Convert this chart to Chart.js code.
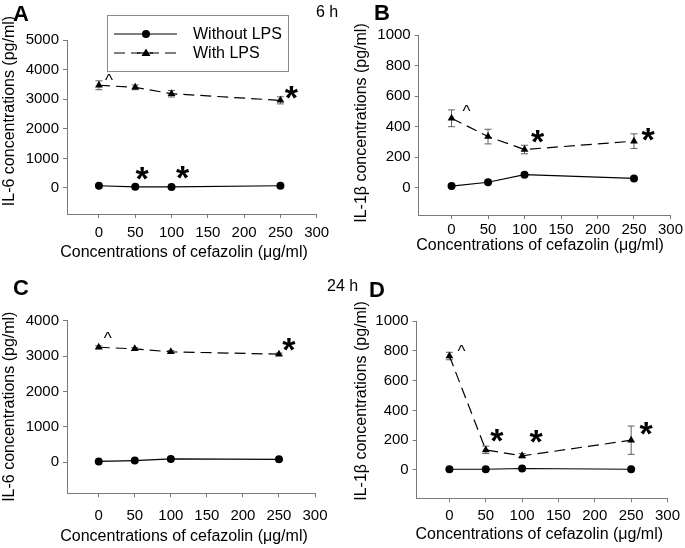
<!DOCTYPE html>
<html><head><meta charset="utf-8">
<script src="https://cdn.jsdelivr.net/npm/chart.js@4.4.1/dist/chart.umd.min.js"></script>
<style>
html,body{margin:0;padding:0;background:#fff;}
#wrap{position:relative;width:685px;height:548px;overflow:hidden;background:#fff;font-family:"Liberation Sans",Arial,sans-serif;}
canvas{position:absolute;}
.lbl{position:absolute;font-weight:bold;font-size:22px;line-height:1;color:#000;}
.tm{position:absolute;font-size:16px;line-height:1;color:#000;}
</style></head><body>
<div id="wrap">
<canvas id="cA" width="342" height="274" style="left:0;top:0"></canvas>
<canvas id="cB" width="343" height="274" style="left:342px;top:0"></canvas>
<canvas id="cC" width="342" height="274" style="left:0;top:274px"></canvas>
<canvas id="cD" width="343" height="274" style="left:342px;top:274px"></canvas>
<div class="lbl" style="left:13px;top:3px">A</div>
<div class="lbl" style="left:374px;top:2px">B</div>
<div class="lbl" style="left:13px;top:277px">C</div>
<div class="lbl" style="left:369px;top:279px">D</div>
<div class="tm" style="left:316px;top:4px">6 h</div>
<div class="tm" style="left:327px;top:278px">24 h</div>
</div>
<script>
// ---- data ----
const doses = [0, 50, 100, 250];
const xTicks = [0, 50, 100, 150, 200, 250, 300];
const il6Ticks = [0, 1000, 2000, 3000, 4000, 5000];
const il6Ticks24 = [0, 1000, 2000, 3000, 4000];
const il1bTicks = [0, 200, 400, 600, 800, 1000];

// 6 h IL-6 (panel A)
const il6_6h_without = [75, 40, 35, 75];
const il6_6h_with = [3470, 3400, 3185, 2960];
const il6_6h_with_err = [150, 80, 110, 120];
// 6 h IL-1beta (panel B)
const il1b_6h_without = [10, 35, 85, 60];
const il1b_6h_with = [455, 335, 250, 305];
const il1b_6h_with_err = [55, 48, 28, 48];
// 24 h IL-6 (panel C)
const il6_24h_without = [25, 50, 95, 85];
const il6_24h_with = [3250, 3205, 3120, 3055];
const il6_24h_with_err = [40, 35, 35, 30];
// 24 h IL-1beta (panel D)
const il1b_24h_without = [5, 5, 10, 5];
const il1b_24h_with = [765, 135, 95, 200];
const il1b_24h_with_err = [25, 25, 15, 95];

const seriesNames = ['Without LPS', 'With LPS'];
const xTitle = 'Concentrations of cefazolin (\u03bcg/ml)';
const il6Title = 'IL-6 concentrations (pg/ml)';
const il1bTitle = 'IL-1\u03b2 concentrations (pg/ml)';

const FONT = '"Liberation Sans", Arial, sans-serif';
const AXIS = '#7a7a7a';

const pts = arr => doses.map((d, i) => ({x: d, y: arr[i]}));

const errorBars = {
  id: 'errorBars',
  beforeDatasetsDraw(chart) {
    const ctx = chart.ctx, ys = chart.scales.y;
    chart.data.datasets.forEach((ds, di) => {
      if (!ds.errors) return;
      const meta = chart.getDatasetMeta(di);
      ctx.save();
      ctx.strokeStyle = '#606060';
      ctx.lineWidth = 1;
      meta.data.forEach((p, i) => {
        const v = ds.data[i].y, e = ds.errors[i];
        const t = ys.getPixelForValue(v + e), b = ys.getPixelForValue(v - e);
        ctx.beginPath();
        ctx.moveTo(p.x, t); ctx.lineTo(p.x, b);
        ctx.moveTo(p.x - 3.5, t); ctx.lineTo(p.x + 3.5, t);
        ctx.moveTo(p.x - 3.5, b); ctx.lineTo(p.x + 3.5, b);
        ctx.stroke();
      });
      ctx.restore();
    });
  }
};

function drawCentered(ctx, text, cx, cy) {
  const m = ctx.measureText(text);
  const asc = m.actualBoundingBoxAscent, desc = m.actualBoundingBoxDescent;
  ctx.textAlign = 'center';
  ctx.textBaseline = 'alphabetic';
  ctx.fillText(text, cx, cy + (asc - desc) / 2);
}

const notesPlugin = {
  id: 'notes',
  afterDatasetsDraw(chart, args, opts) {
    const ctx = chart.ctx;
    (opts.items || []).forEach(n => {
      const p = chart.getDatasetMeta(n.ds).data[n.i];
      ctx.save();
      ctx.fillStyle = '#000';
      ctx.font = n.t === '*' ? 'bold 34px ' + FONT : '17px ' + FONT;
      drawCentered(ctx, n.t, p.x + n.dx, p.y + n.dy);
      ctx.restore();
    });
  }
};

const titlesPlugin = {
  id: 'axisTitles',
  afterDraw(chart, args, o) {
    const ctx = chart.ctx;
    ctx.save();
    ctx.fillStyle = '#000';
    ctx.font = '16px ' + FONT;
    ctx.textAlign = 'center';
    ctx.textBaseline = 'middle';
    ctx.fillText(o.xText, o.xPos[0], o.xPos[1]);
    ctx.translate(o.yPos[0], o.yPos[1]);
    ctx.rotate(-Math.PI / 2);
    ctx.fillText(o.yText, 0, 0);
    ctx.restore();
  }
};

const boxLegend = {
  id: 'boxLegend',
  afterDraw(chart, args, o) {
    if (!o.show) return;
    const ctx = chart.ctx;
    ctx.save();
    ctx.strokeStyle = '#8a8a8a';
    ctx.lineWidth = 1;
    ctx.strokeRect(o.x + 0.5, o.y + 0.5, o.w, o.h);
    const rows = [o.y + 19, o.y + 38];
    chart.data.datasets.forEach((ds, di) => {
      const y = rows[di];
      ctx.strokeStyle = '#000';
      ctx.lineWidth = 1.2;
      ctx.setLineDash(ds.borderDash || []);
      ctx.beginPath();
      ctx.moveTo(o.x + 7, y); ctx.lineTo(o.x + 70, y);
      ctx.stroke();
      ctx.setLineDash([]);
      ctx.fillStyle = '#fff';
      if (ds.borderDash) { ctx.fillRect(o.x + 33, y - 3, 10, 6); ctx.strokeStyle='#000'; ctx.beginPath(); ctx.moveTo(o.x+30,y);ctx.lineTo(o.x+46,y);ctx.stroke(); }
      ctx.fillStyle = '#000';
      ctx.beginPath();
      if (ds.pointStyle === 'circle') {
        ctx.arc(o.x + 39, y, 4, 0, Math.PI * 2);
      } else {
        ctx.moveTo(o.x + 39, y - 4.5); ctx.lineTo(o.x + 43.5, y + 3); ctx.lineTo(o.x + 34.5, y + 3); ctx.closePath();
      }
      ctx.fill();
      ctx.font = '16px ' + FONT;
      ctx.textAlign = 'left';
      ctx.textBaseline = 'middle';
      ctx.fillText(ds.label, o.x + 86, y + 1);
    });
    ctx.restore();
  }
};

function makePanel(id, c) {
  const cv = document.getElementById(id);
  const W = cv.width, H = cv.height;
  const tickOpts = pad => ({font: {size: 15, family: FONT}, color: '#000', padding: pad, autoSkip: false, maxRotation: 0,
                            callback: v => String(v)});
  const grid = {display: true, drawOnChartArea: false, drawTicks: true, tickLength: 4, color: AXIS, lineWidth: 1};
  new Chart(cv, {
    type: 'line',
    data: {
      datasets: [
        {label: seriesNames[0], data: pts(c.without), borderColor: '#000', backgroundColor: '#000', borderWidth: 1.2,
         pointStyle: 'circle', pointRadius: 4, pointBorderWidth: 0, tension: 0},
        {label: seriesNames[1], data: pts(c.withV), errors: c.withErr, borderColor: '#000', backgroundColor: '#000', borderWidth: 1.2,
         borderDash: [11, 6], pointStyle: 'triangle', pointRadius: 4.5, pointBorderWidth: 0, tension: 0}
      ]
    },
    options: {
      responsive: false, animation: false, devicePixelRatio: 1,
      layout: {padding: {left: 0, top: c.box.top, right: W - c.box.right, bottom: 0}},
      plugins: {
        legend: {display: false}, tooltip: {enabled: false},
        notes: {items: c.notes},
        axisTitles: {xText: xTitle, yText: c.yTitle, xPos: c.xTitlePos, yPos: c.yTitlePos},
        boxLegend: c.legend || {show: false}
      },
      scales: {
        x: {type: 'linear', min: c.xMin, max: 300,
            afterBuildTicks: s => { s.ticks = xTicks.map(v => ({value: v})); },
            afterFit: s => { s.height = H - c.box.bottom; },
            grid: grid, border: {display: true, color: AXIS, width: 1}, ticks: tickOpts(c.xPad)},
        y: {type: 'linear', min: c.yMin, max: c.yMax,
            afterBuildTicks: s => { s.ticks = c.yTicks.map(v => ({value: v})); },
            afterFit: s => { s.width = c.box.left; },
            grid: grid, border: {display: true, color: AXIS, width: 1}, ticks: tickOpts(4)}
      }
    },
    plugins: [errorBars, notesPlugin, titlesPlugin, boxLegend]
  });
}

makePanel('cA', {
  without: il6_6h_without, withV: il6_6h_with, withErr: il6_6h_with_err,
  yTicks: il6Ticks, yMin: -880, yMax: 5000, xMin: -44,
  box: {left: 67, top: 40, right: 316.7, bottom: 214}, xPad: 6,
  yTitle: il6Title, xTitlePos: [184, 253], yTitlePos: [10, 111],
  legend: {show: true, x: 107, y: 15, w: 181, h: 56},
  notes: [{ds: 1, i: 0, t: '^', dx: 10, dy: -8}, {ds: 1, i: 3, t: '*', dx: 11, dy: -8},
          {ds: 0, i: 1, t: '*', dx: 7, dy: -13}, {ds: 0, i: 2, t: '*', dx: 11, dy: -14}]
});
makePanel('cB', {
  without: il1b_6h_without, withV: il1b_6h_with, withErr: il1b_6h_with_err,
  yTicks: il1bTicks, yMin: -180, yMax: 1000, xMin: -45,
  box: {left: 76.7, top: 35.3, right: 329, bottom: 215}, xPad: 2,
  yTitle: il1bTitle, xTitlePos: [198, 246], yTitlePos: [19.7, 123],
  notes: [{ds: 1, i: 0, t: '^', dx: 15, dy: -10}, {ds: 1, i: 2, t: '*', dx: 13, dy: -13},
          {ds: 1, i: 3, t: '*', dx: 14, dy: -7}]
});
makePanel('cC', {
  without: il6_24h_without, withV: il6_24h_with, withErr: il6_24h_with_err,
  yTicks: il6Ticks24, yMin: -875, yMax: 4000, xMin: -44,
  box: {left: 67, top: 46.7, right: 315, bottom: 219.3}, xPad: 10,
  yTitle: il6Title, xTitlePos: [184, 262.7], yTitlePos: [10, 132.7],
  notes: [{ds: 1, i: 0, t: '^', dx: 9, dy: -12}, {ds: 1, i: 3, t: '*', dx: 10, dy: -10}]
});
makePanel('cD', {
  without: il1b_24h_without, withV: il1b_24h_with, withErr: il1b_24h_with_err,
  yTicks: il1bTicks, yMin: -190, yMax: 1000, xMin: -45,
  box: {left: 74.7, top: 47, right: 329.7, bottom: 224.3}, xPad: 5,
  yTitle: il1bTitle, xTitlePos: [197.3, 261], yTitlePos: [19.7, 127],
  notes: [{ds: 1, i: 0, t: '^', dx: 12, dy: -8}, {ds: 1, i: 1, t: '*', dx: 11, dy: -14},
          {ds: 1, i: 2, t: '*', dx: 14, dy: -19}, {ds: 1, i: 3, t: '*', dx: 15, dy: -12}]
});
</script>
</body></html>
